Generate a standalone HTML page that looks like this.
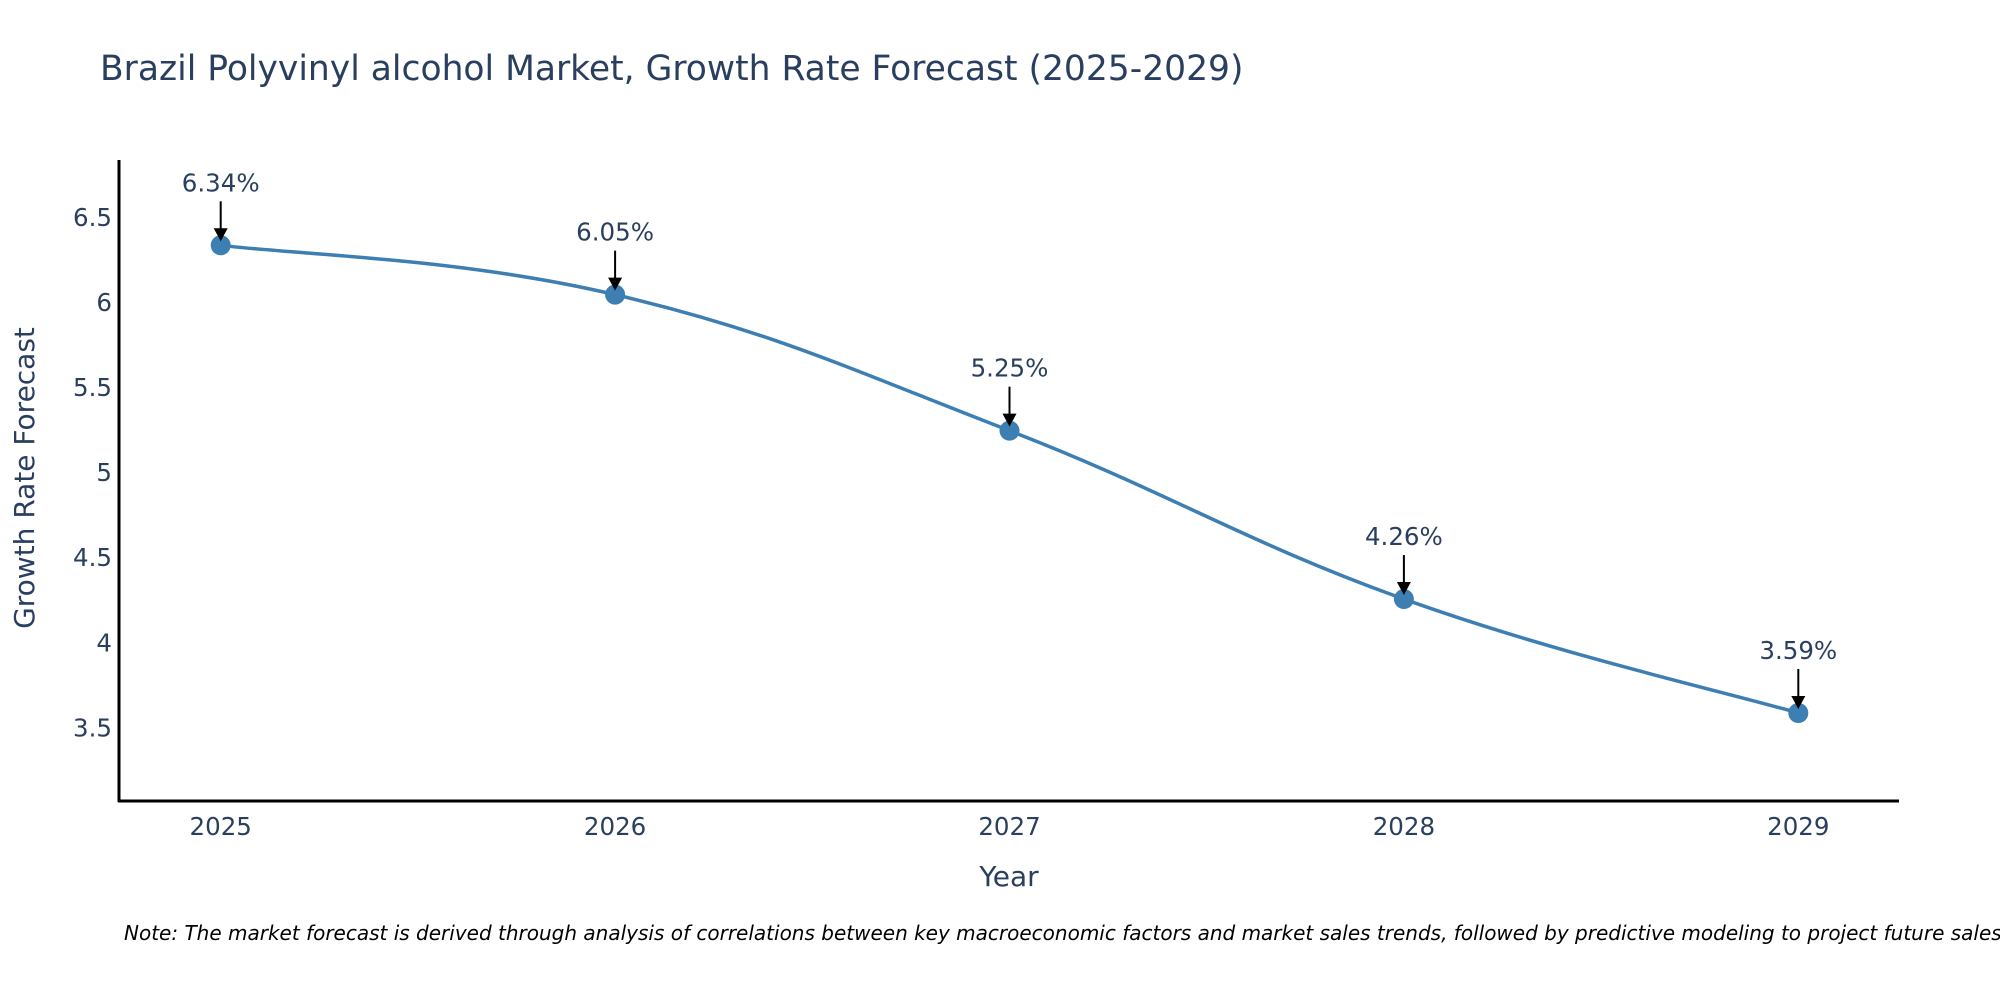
<!DOCTYPE html>
<html><head><meta charset="utf-8"><style>
body{margin:0;background:#fff}
svg text{font-family:"DejaVu Sans","Liberation Sans",sans-serif;fill:#2a3f5f}
</style></head><body>
<svg id="chart" width="2000" height="1000" viewBox="0 0 2000 1000" xmlns="http://www.w3.org/2000/svg">
<text x="100" y="80" font-size="34.5">Brazil Polyvinyl alcohol Market, Growth Rate Forecast (2025-2029)</text>
<line x1="119" y1="160" x2="119" y2="802" stroke="#000" stroke-width="3"/>
<line x1="118" y1="801" x2="1899" y2="801" stroke="#000" stroke-width="3"/>
<g id="yticks"></g><g id="xticks"></g>
<text transform="translate(34,478) rotate(-90)" text-anchor="middle" font-size="28">Growth Rate Forecast</text>
<text x="1009" y="886" text-anchor="middle" font-size="28">Year</text>
<g id="series"></g><g id="annots"></g>
<text x="124" y="940" font-size="20" font-style="italic" style="fill:#000">Note: The market forecast is derived through analysis of correlations between key macroeconomic factors and market sales trends, followed by predictive modeling to project future sales.</text>
</svg>
<script>
const years=["2025","2026","2027","2028","2029"];
const values=[6.34,6.05,5.25,4.26,3.59];
const labels=["6.34%","6.05%","5.25%","4.26%","3.59%"];
const yTicks=[3.5,4,4.5,5,5.5,6,6.5];
const yTickLabels=["3.5","4","4.5","5","5.5","6","6.5"];
const NS="http://www.w3.org/2000/svg";
const X=i=>220.7+i*394.4;
const Y=v=>728.3-(v-3.5)*170.07;
function mk(t,a,p){const e=document.createElementNS(NS,t);for(const k in a)e.setAttribute(k,a[k]);p.appendChild(e);return e;}
const yg=document.getElementById('yticks');
yTicks.forEach((v,i)=>{const t=mk('text',{x:112,y:Y(v)+8,'text-anchor':'end','font-size':24.5},yg);t.textContent=yTickLabels[i];

});
const xg=document.getElementById('xticks');
years.forEach((y,i)=>{const t=mk('text',{x:X(i),y:835,'text-anchor':'middle','font-size':24.5},xg);t.textContent=y;

});
const pts=values.map((v,i)=>[X(i),Y(v)]);
let d=`M${pts[0][0]},${pts[0][1]}`;
const s=0.2;
for(let i=0;i<pts.length-1;i++){const p0=pts[Math.max(0,i-1)],p1=pts[i],p2=pts[i+1],p3=pts[Math.min(pts.length-1,i+2)];
const c1=[p1[0]+(p2[0]-p0[0])*s,p1[1]+(p2[1]-p0[1])*s];const c2=[p2[0]-(p3[0]-p1[0])*s,p2[1]-(p3[1]-p1[1])*s];
d+=` C${c1[0]},${c1[1]} ${c2[0]},${c2[1]} ${p2[0]},${p2[1]}`;}
const sg=document.getElementById('series');
const line=mk('path',{d:d,fill:'none',stroke:'#3d7fb3','stroke-width':3.5},sg);


const ag=document.getElementById('annots');
pts.forEach((p,i)=>{const c=mk('circle',{cx:p[0],cy:p[1],r:10,fill:'#3d7fb3'},sg);


const l=mk('line',{x1:p[0],y1:p[1]-44,x2:p[0],y2:p[1]-14,stroke:'#000','stroke-width':2},ag);


const h=mk('path',{d:`M${p[0]-7},${p[1]-17} L${p[0]+7},${p[1]-17} L${p[0]},${p[1]-4} Z`,fill:'#000'},ag);


const t=mk('text',{x:p[0],y:p[1]-54,'text-anchor':'middle','font-size':24.5},ag);t.textContent=labels[i];

});
</script>
</body></html>
